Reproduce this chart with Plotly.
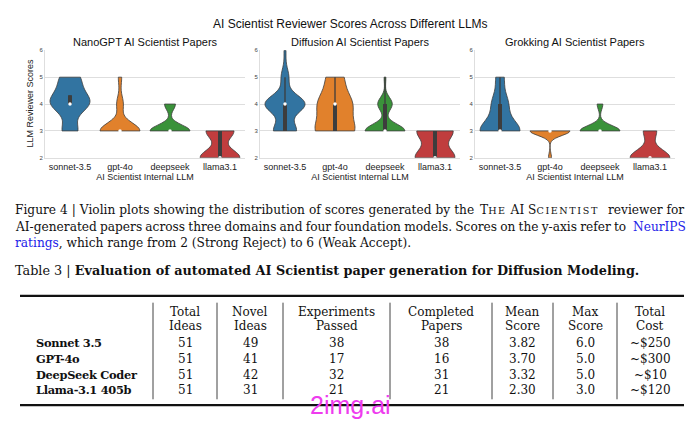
import plotly.graph_objects as go

# ---------------- data ----------------
MODELS = ["sonnet-3.5", "gpt-4o", "deepseek", "llama3.1"]
PANEL_TITLES = ["NanoGPT AI Scientist Papers", "Diffusion AI Scientist Papers", "Grokking AI Scientist Papers"]

# reviewer scores per paper (estimated from violin shapes)
NANOGPT_SONNET = [3, 3, 3, 4, 4, 4, 4, 4, 4, 4.33, 4.33, 4.67, 5, 5, 5]
NANOGPT_GPT4O = [3, 3, 3, 3, 3, 3, 3, 3, 3, 3, 3, 3, 4, 4, 5]
NANOGPT_DEEPSEEK = [3, 3, 3, 3, 3, 3, 3, 3, 3, 3, 3, 4, 4, 4]
NANOGPT_LLAMA = [2, 2, 2, 2, 2, 2, 2, 2, 2, 2, 3, 3, 3, 3, 3, 3, 3]

DIFFUSION_SONNET = [3, 3, 3, 3, 3, 3, 3, 3, 3, 3, 3, 3,
                    4, 4, 4, 4, 4, 4, 4, 4, 4, 4, 4, 4, 4, 4, 4, 4, 4, 4, 4, 4, 4,
                    5, 5, 5, 5, 6]
DIFFUSION_GPT4O = [3, 3, 3, 3, 3, 3, 3, 4, 4, 4, 4, 4, 4, 5, 5, 5]
DIFFUSION_DEEPSEEK = [3, 3, 3, 3, 3, 3, 3, 3, 3, 3, 3, 3, 3, 3, 3, 3, 3, 3, 3, 3, 3, 3,
                      4, 4, 4, 4, 4, 4, 4, 4, 5]
DIFFUSION_LLAMA = [2, 2, 2, 2, 2, 2, 2, 2, 2, 2, 2, 3, 3, 3, 3, 3, 3, 3, 3, 3, 3]

GROKKING_SONNET = [3, 3, 3, 3, 3, 3, 3, 3, 3, 3, 4, 4, 4, 4, 5, 5]
GROKKING_GPT4O = [2, 3, 3, 3, 3, 3, 3, 3, 3, 3, 3, 3, 3, 3]
GROKKING_DEEPSEEK = [3, 3, 3, 3, 3, 3, 3, 3, 3, 3, 3, 3, 3, 3, 4, 4]
GROKKING_LLAMA = [2, 2, 2, 2, 2, 2, 2, 2, 2, 2, 2, 2, 3, 3, 3, 3]

# inner box statistics (per model)
NANOGPT_Q1 = [4.0, 3, 3, 2]
NANOGPT_MED = [4.0, 3, 3, 2]
NANOGPT_Q3 = [4.33, 3, 3, 3]
NANOGPT_LO = [4.0, 3, 3, 2]
NANOGPT_HI = [4.33, 3, 3, 3]

DIFFUSION_Q1 = [3, 3, 3, 2]
DIFFUSION_MED = [4, 4, 3, 2]
DIFFUSION_Q3 = [4, 4, 4, 3]
DIFFUSION_LO = [3, 3, 3, 2]
DIFFUSION_HI = [5, 5, 5, 3]

GROKKING_Q1 = [3, 3, 3, 2]
GROKKING_MED = [3, 3, 3, 2]
GROKKING_Q3 = [4, 3, 3, 2]
GROKKING_LO = [3, 3, 3, 2]
GROKKING_HI = [5, 3, 3, 2]

# table data
TABLE_MODELS = ["Sonnet 3.5", "GPT-4o", "DeepSeek Coder", "Llama-3.1 405b"]
TABLE_HEADERS = [("Total", "Ideas"), ("Novel", "Ideas"), ("Experiments", "Passed"),
                 ("Completed", "Papers"), ("Mean", "Score"), ("Max", "Score"), ("Total", "Cost")]
TOTAL_IDEAS = [51, 51, 51, 51]
NOVEL_IDEAS = [49, 41, 42, 31]
EXPERIMENTS_PASSED = [38, 17, 32, 21]
COMPLETED_PAPERS = [38, 16, 31, 21]
MEAN_SCORE = ["3.82", "3.70", "3.32", "2.30"]
MAX_SCORE = ["6.0", "5.0", "5.0", "3.0"]
TOTAL_COST = ["~$250", "~$300", "~$10", "~$120"]

# ---------------- style ----------------
COLORS = ["#3274a1", "#e1812c", "#3a923a", "#c03d3e"]
EDGE = "#3d3d3d"
GRID = "#dedede"
LINK = "#2323e8"
SANS = "Liberation Sans, Arial, sans-serif"
SERIF = "DejaVu Serif, serif"
W, H = 700, 422

BANDWIDTHS = [
    [0.35, 0.30, 0.22, 0.30],
    [0.33, 0.45, 0.25, 0.35],
    [0.40, 0.17, 0.20, 0.30],
]


def px_x(x):
    return x / W


def px_y(y):
    return 1 - y / H


panels = [
    ([NANOGPT_SONNET, NANOGPT_GPT4O, NANOGPT_DEEPSEEK, NANOGPT_LLAMA],
     (NANOGPT_Q1, NANOGPT_MED, NANOGPT_Q3, NANOGPT_LO, NANOGPT_HI)),
    ([DIFFUSION_SONNET, DIFFUSION_GPT4O, DIFFUSION_DEEPSEEK, DIFFUSION_LLAMA],
     (DIFFUSION_Q1, DIFFUSION_MED, DIFFUSION_Q3, DIFFUSION_LO, DIFFUSION_HI)),
    ([GROKKING_SONNET, GROKKING_GPT4O, GROKKING_DEEPSEEK, GROKKING_LLAMA],
     (GROKKING_Q1, GROKKING_MED, GROKKING_Q3, GROKKING_LO, GROKKING_HI)),
]

X_PIX = [(45, 245), (260, 460), (475, 675)]
Y_TOP, Y_BOT = 48, 157

fig = go.Figure()

for p, (series, stats) in enumerate(panels):
    xa = "x" if p == 0 else f"x{p + 1}"
    ya = "y" if p == 0 else f"y{p + 1}"
    for m, vals in enumerate(series):
        fig.add_trace(go.Violin(
            x=[MODELS[m]] * len(vals), y=vals, xaxis=xa, yaxis=ya,
            name=MODELS[m], showlegend=False,
            spanmode="hard", scalemode="width", width=0.8,
            bandwidth=BANDWIDTHS[p][m], points=False,
            fillcolor=COLORS[m], opacity=1,
            line=dict(color=EDGE, width=0.8),
            box_visible=False, meanline_visible=False, hoverinfo="skip",
        ))
    q1, med, q3, lo, hi = stats
    wx, wy, bx, by = [], [], [], []
    for m in range(4):
        wx += [MODELS[m], MODELS[m], None]
        wy += [lo[m], hi[m], None]
        bx += [MODELS[m], MODELS[m], None]
        by += [q1[m], q3[m], None]
    fig.add_trace(go.Scatter(x=wx, y=wy, xaxis=xa, yaxis=ya, mode="lines",
                             line=dict(color=EDGE, width=1.3), showlegend=False, hoverinfo="skip"))
    fig.add_trace(go.Scatter(x=bx, y=by, xaxis=xa, yaxis=ya, mode="lines",
                             line=dict(color=EDGE, width=4), showlegend=False, hoverinfo="skip"))
    fig.add_trace(go.Scatter(x=MODELS, y=med, xaxis=xa, yaxis=ya, mode="markers",
                             marker=dict(color="white", size=3.5, line=dict(width=0)),
                             showlegend=False, hoverinfo="skip"))

layout = dict(
    width=W, height=H, margin=dict(l=0, r=0, t=0, b=0),
    paper_bgcolor="white", plot_bgcolor="white",
    violinmode="overlay", showlegend=False,
)
for p in range(3):
    sx = "xaxis" if p == 0 else f"xaxis{p + 1}"
    sy = "yaxis" if p == 0 else f"yaxis{p + 1}"
    xa_anchor = "y" if p == 0 else f"y{p + 1}"
    ya_anchor = "x" if p == 0 else f"x{p + 1}"
    layout[sx] = dict(
        domain=[px_x(X_PIX[p][0]), px_x(X_PIX[p][1])], anchor=xa_anchor,
        type="category", categoryorder="array", categoryarray=MODELS,
        range=[-0.5, 3.5], showgrid=False, zeroline=False,
        showline=True, linecolor=GRID, linewidth=1, ticks="",
        tickfont=dict(family=SANS, size=9, color="#222"),
        title=dict(text="AI Scientist Internal LLM", font=dict(family=SANS, size=9, color="#222"), standoff=1),
    )
    layout[sy] = dict(
        domain=[px_y(Y_BOT), px_y(Y_TOP)], anchor=ya_anchor,
        range=[2, 6], tickvals=[2, 3, 4, 5, 6], showgrid=True, gridcolor=GRID, gridwidth=1,
        zeroline=False, showline=True, linecolor=GRID, linewidth=1, ticks="",
        tickfont=dict(family=SANS, size=6, color="#444"),
    )
fig.update_layout(**layout)

ann = []


def text_at(txt, x, y, anchor="left", font=None, **kw):
    ann.append(dict(text=txt, x=px_x(x), y=px_y(y), xref="paper", yref="paper", showarrow=False,
                    xanchor=anchor, yanchor="middle", font=font, **kw))


text_at("AI Scientist Reviewer Scores Across Different LLMs", 350, 21, "center",
        dict(family=SANS, size=12, color="#111"))
for p in range(3):
    cx = (X_PIX[p][0] + X_PIX[p][1]) / 2
    text_at(PANEL_TITLES[p], cx, 40, "center", dict(family=SANS, size=11, color="#111"))
text_at("LLM Reviewer Scores", 30, 102, "center", dict(family=SANS, size=9, color="#222"), textangle=-90)

# caption
cap_font = dict(family=SERIF, size=12.2, color="#111")
SC = "<span style='font-size:9.6px;letter-spacing:1.6px'>"
text_at("<span style='word-spacing:0.1px'>Figure 4 | Violin plots showing the distribution of scores generated by the</span>",
        13, 210, "left", cap_font)
text_at("T" + SC + "HE</span> AI S" + SC + "CIENTIST</span>", 478, 210, "left", cap_font)
text_at("reviewer for", 686, 210, "right", cap_font)
text_at("<span style='word-spacing:-0.7px'>AI-generated papers across three domains and four foundation models. "
        "Scores on the y-axis refer to</span>", 13, 227, "left", cap_font)
text_at("<span style='color:" + LINK + "'>NeurIPS</span>", 688, 227, "right", cap_font)
text_at("<span style='color:" + LINK + "'>ratings</span>, which range from 2 (Strong Reject) to 6 (Weak Accept).",
        13, 243, "left", cap_font)
text_at("Table 3 | <b>Evaluation of automated AI Scientist paper generation for Diffusion Modeling.</b>",
        13, 271, "left", dict(family=SERIF, size=12.8, color="#111"))

# table
COL_CENTERS = [185, 250, 336.5, 441, 522.5, 585, 650]
ROW_Y = [345, 361, 377, 393]
tab_font = dict(family=SERIF, size=12, color="#111")
lab_font = dict(family=SERIF, size=11.4, color="#111")
for c, (h1, h2) in enumerate(TABLE_HEADERS):
    text_at(h1, COL_CENTERS[c], 313, "center", tab_font)
    text_at(h2, COL_CENTERS[c], 328, "center", tab_font)
columns = [TOTAL_IDEAS, NOVEL_IDEAS, EXPERIMENTS_PASSED, COMPLETED_PAPERS, MEAN_SCORE, MAX_SCORE, TOTAL_COST]
for r, name in enumerate(TABLE_MODELS):
    text_at("<b><span style='letter-spacing:-0.3px'>" + name + "</span></b>", 34, ROW_Y[r], "left", lab_font)
    for c, col in enumerate(columns):
        text_at(str(col[r]), COL_CENTERS[c], ROW_Y[r], "center", tab_font)

text_at("2img.ai", 350, 408, "center", dict(family=SANS, size=25, color="#ee3cee"))

shapes = []
shapes.append(dict(type="line", xref="paper", yref="paper", x0=px_x(20), x1=px_x(684),
                   y0=px_y(297), y1=px_y(297), line=dict(color="#111", width=2.2)))
shapes.append(dict(type="line", xref="paper", yref="paper", x0=px_x(20), x1=px_x(684),
                   y0=px_y(408), y1=px_y(408), line=dict(color="#111", width=2.2)))
for vx in [153, 217, 283, 390, 492, 553, 617]:
    shapes.append(dict(type="line", xref="paper", yref="paper", x0=px_x(vx), x1=px_x(vx),
                       y0=px_y(304), y1=px_y(402), line=dict(color="#111", width=0.8)))

fig.update_layout(annotations=ann, shapes=shapes)
fig.write_html("out.html", config={"displayModeBar": False},
               post_script="document.body.style.margin='0';document.body.style.overflow='hidden';")
